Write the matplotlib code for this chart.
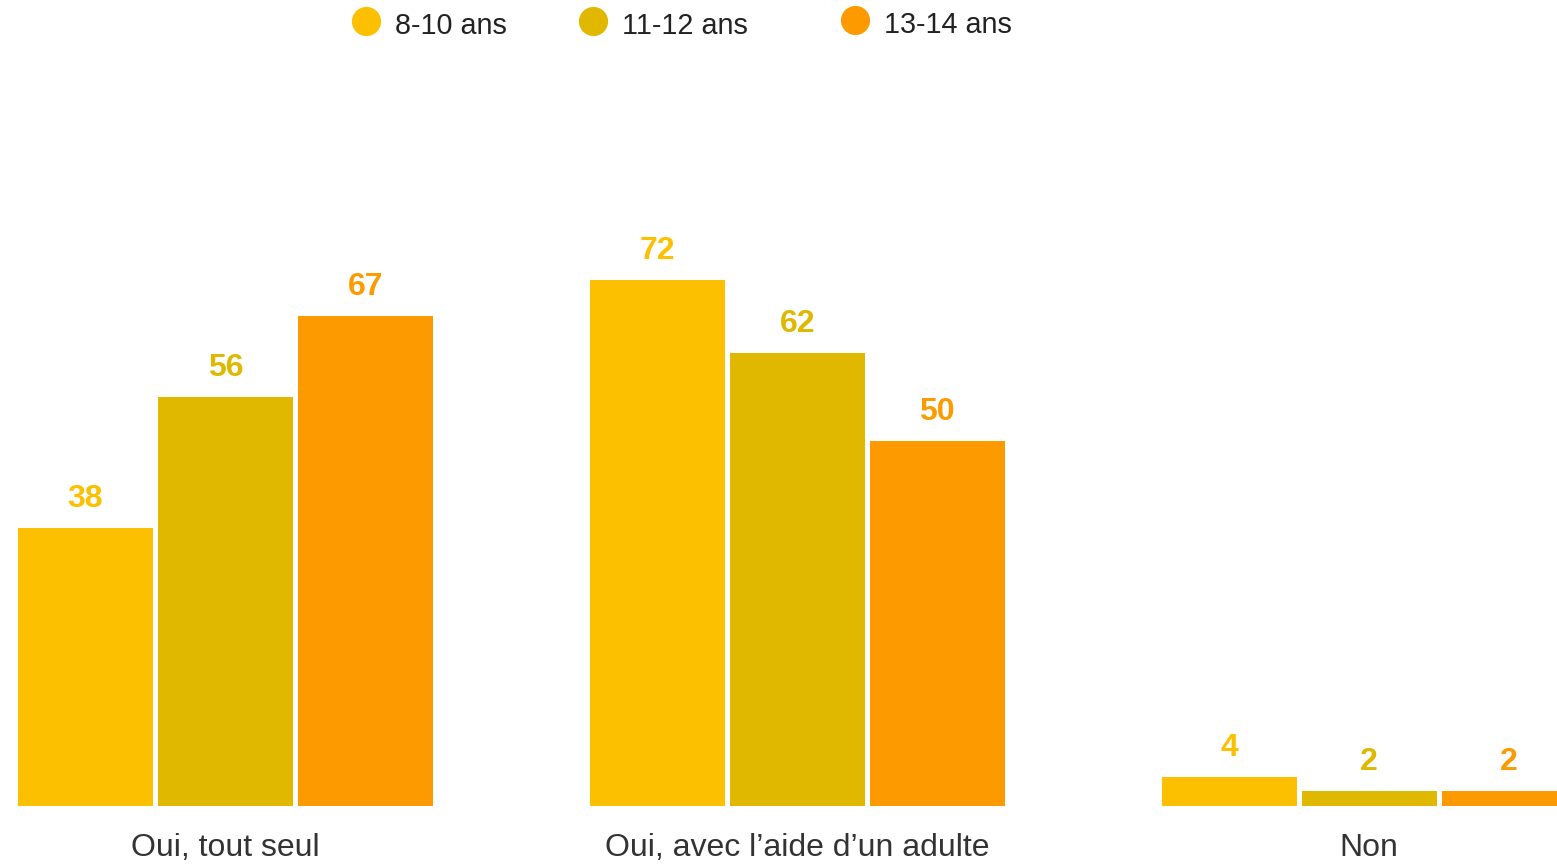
import matplotlib
matplotlib.use("Agg")
import matplotlib.pyplot as plt
import numpy as np
from matplotlib.lines import Line2D

categories = ["Oui, tout seul", "Oui, avec l\u2019aide d\u2019un adulte", "Non"]
series_names = ["8-10 ans", "11-12 ans", "13-14 ans"]
v_8_10 = [38, 72, 4]
v_11_12 = [56, 62, 2]
v_13_14 = [67, 50, 2]
values = [v_8_10, v_11_12, v_13_14]
colors = ["#FDC000", "#E0B800", "#FD9A00"]

plt.rcParams['font.family'] = ['Liberation Sans', 'DejaVu Sans']

fig = plt.figure(figsize=(15.57, 8.64), dpi=100)
ax = fig.add_axes([0, 58/864, 1, 731/864])

x = np.arange(len(categories))
pitch = 140/572
width = 135/572
for i, (vals, col) in enumerate(zip(values, colors)):
    pos = x + (i - 1) * pitch
    ax.bar(pos, vals, width=width, color=col, linewidth=0)
    for p, v in zip(pos, vals):
        ax.annotate(str(v), (p, v), xytext=(0, 10), textcoords="offset points",
                    ha="center", va="bottom", fontsize=23, fontweight="bold", color=col)

ax.set_xlim(-0.3943, 2 + 188/572)
ax.set_ylim(0, 100)
ax.axis("off")

for xi, c in zip(x, categories):
    fig.text((xi + 0.3943) / (2 + 188/572 + 0.3943), 16/864, c, ha="center", va="center",
             fontsize=23, color="#333333")

leg_x = [366, 593, 855]
leg_y = [21, 21, 20]
for lx, ly, name, col in zip(leg_x, leg_y, series_names, colors):
    fig.add_artist(Line2D([lx/1557], [1 - ly/864], marker="o", markersize=20,
                          color=col, linestyle="none", transform=fig.transFigure))
    fig.text((lx + 29)/1557, 1 - (ly + 5)/864, name, ha="left", va="center",
             fontsize=20.7, color="#222222")

fig.savefig("out.png", dpi=100)
